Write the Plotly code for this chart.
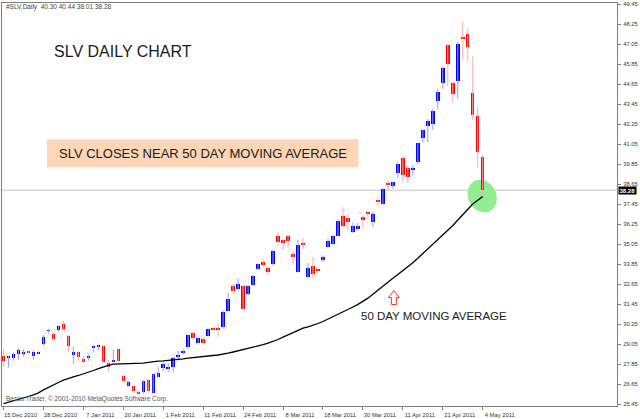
import math
import plotly.graph_objects as go

# ---------------- data ----------------
dates = ["15 Dec 2010", "28 Dec 2010", "7 Jan 2011", "20 Jan 2011", "1 Feb 2011",
         "11 Feb 2011", "24 Feb 2011", "8 Mar 2011", "18 Mar 2011", "30 Mar 2011",
         "11 Apr 2011", "21 Apr 2011", "4 May 2011"]
date_bar_index = [0, 8, 16, 24, 32, 40, 48, 56, 64, 72, 80, 88, 96]

opens = [28.36, 28.25, 28.20, 28.48, 28.45, 28.61, 28.34, 28.48, 29.03, 29.83,
         29.65, 29.87, 30.27, 29.55, 28.42, 28.57, 28.16, 28.25, 28.85, 28.91,
         28.91, 27.90, 27.98, 28.73, 27.16, 26.54, 26.52, 26.15, 26.15, 26.90,
         26.11, 27.10, 27.62, 27.60, 27.66, 28.30, 28.50, 28.89, 29.69, 29.13,
         29.37, 29.53, 29.99, 29.99, 30.05, 31.04, 32.54, 32.33, 32.51, 32.07,
         32.57, 33.53, 34.00, 33.63, 33.83, 35.52, 35.27, 35.52, 34.45, 33.37,
         35.06, 33.07, 33.73, 33.51, 34.07, 34.90, 35.06, 35.56, 36.75, 36.61,
         35.76, 35.96, 36.69, 36.95, 36.39, 37.65, 37.45, 38.69, 38.51, 39.34,
         40.24, 39.64, 39.50, 39.98, 41.39, 42.12, 42.23, 43.66, 44.72, 47.00,
         44.72, 44.81, 47.50, 47.66, 44.12, 42.72, 40.30]
highs = [28.73, 28.35, 28.54, 28.83, 28.73, 28.68, 28.65, 28.60, 29.59, 29.97,
         29.75, 30.18, 30.45, 29.59, 28.89, 28.63, 28.30, 28.45, 28.97, 29.01,
         28.95, 28.10, 28.69, 28.78, 27.21, 26.85, 26.58, 26.27, 26.87, 26.94,
         27.30, 27.70, 27.94, 27.90, 28.30, 28.63, 28.73, 29.65, 29.77, 29.49,
         29.45, 29.99, 30.09, 30.29, 31.04, 32.12, 32.67, 32.97, 32.57, 32.60,
         33.17, 33.87, 34.17, 33.73, 34.70, 35.76, 35.36, 35.60, 34.66, 35.32,
         35.40, 33.91, 34.27, 33.67, 34.37, 35.36, 35.60, 36.51, 37.25, 36.85,
         36.32, 36.32, 36.79, 37.03, 36.99, 37.75, 38.39, 38.84, 38.78, 39.94,
         40.34, 39.74, 39.78, 41.13, 41.93, 42.56, 43.16, 44.36, 45.71, 47.06,
         44.81, 47.20, 48.39, 48.00, 46.31, 43.28, 40.44]
lows = [27.70, 27.64, 28.04, 28.10, 28.30, 28.45, 28.10, 28.42, 28.95, 29.69,
        29.29, 29.79, 29.89, 28.60, 27.86, 28.04, 27.90, 28.04, 28.56, 28.66,
        27.96, 27.36, 27.96, 27.98, 26.78, 26.46, 26.18, 25.95, 26.07, 26.15,
        26.07, 27.06, 27.40, 27.36, 27.34, 28.06, 28.42, 28.85, 29.35, 29.09,
        29.09, 29.49, 29.85, 29.49, 29.97, 30.98, 32.12, 32.27, 31.12, 31.95,
        32.51, 33.47, 33.67, 33.17, 33.77, 34.96, 34.70, 34.80, 33.77, 33.33,
        34.76, 33.01, 32.97, 33.33, 33.97, 34.84, 35.02, 35.52, 35.96, 35.92,
        35.72, 35.92, 36.00, 36.55, 36.06, 37.35, 37.41, 38.24, 38.35, 39.04,
        38.78, 38.74, 39.14, 39.84, 41.13, 41.17, 41.89, 43.16, 44.36, 44.55,
        43.56, 43.76, 46.15, 46.00, 42.48, 39.58, 38.01]
closes = [28.04, 28.30, 28.45, 28.67, 28.60, 28.51, 28.56, 28.54, 29.49, 29.89,
          29.35, 30.11, 29.93, 28.93, 28.56, 28.30, 28.00, 28.31, 28.89, 28.95,
          28.00, 27.70, 28.02, 28.04, 26.85, 26.76, 26.24, 26.06, 26.81, 26.21,
          27.26, 27.34, 27.84, 27.64, 28.24, 28.36, 28.66, 29.58, 29.43, 29.41,
          29.13, 29.93, 29.93, 29.89, 30.98, 31.78, 32.22, 32.67, 31.18, 32.51,
          33.11, 33.83, 33.77, 33.37, 34.66, 35.20, 35.16, 35.26, 34.30, 35.00,
          35.00, 33.61, 33.27, 33.45, 34.27, 35.24, 35.52, 36.45, 36.12, 36.36,
          36.16, 36.16, 36.51, 36.89, 36.85, 37.59, 38.35, 38.60, 38.75, 39.84,
          39.20, 39.08, 39.58, 41.09, 41.87, 42.46, 43.06, 44.16, 45.61, 45.85,
          44.08, 47.04, 47.34, 46.90, 42.82, 40.57, 38.28]
ma50 = [25.47, 25.55, 25.63, 25.72, 25.81, 25.90, 26.00, 26.12, 26.30, 26.46,
        26.60, 26.74, 26.88, 27.00, 27.08, 27.16, 27.25, 27.35, 27.46, 27.57,
        27.68, 27.77, 27.84, 27.85, 27.85, 27.85, 27.85, 27.86, 27.90, 27.95,
        28.00, 28.02, 28.04, 28.06, 28.09, 28.12, 28.16, 28.20, 28.24, 28.27,
        28.30, 28.33, 28.36, 28.39, 28.43, 28.50, 28.57, 28.64, 28.70, 28.76,
        28.83, 28.92, 29.01, 29.10, 29.19, 29.32, 29.46, 29.60, 29.75, 29.90,
        30.00, 30.08, 30.17, 30.28, 30.40, 30.54, 30.68, 30.82, 30.97, 31.12,
        31.27, 31.43, 31.60, 31.80, 32.03, 32.28, 32.53, 32.77, 33.00, 33.22,
        33.45, 33.68, 33.93, 34.20, 34.47, 34.75, 35.03, 35.30, 35.58, 35.87,
        36.16, 36.48, 36.84, 37.18, 37.45, 37.68, 37.90]
price_ticks = [25.45 + 1.2 * k for k in range(21)]

# ---------------- styling / layout helpers ----------------
W, H = 640, 419
ML, MR, MT, MB = 1, 23, 3, 11
PW, PH = W - ML - MR, H - MT - MB


def px2paper(px, py):
    return (px - ML) / PW, (H - MB - py) / PH


FONT = "Liberation Sans, Arial, sans-serif"
UP, DN = "#0000ff", "#ff0000"
UP_WICK, DN_WICK = "#9c9cff", "#ffaaaa"

n = len(opens)
idx = list(range(n))
up = [closes[i] >= opens[i] for i in idx]

fig = go.Figure()

# wicks
for is_up, col in ((True, UP_WICK), (False, DN_WICK)):
    xs, ys = [], []
    for i in idx:
        if up[i] == is_up:
            xs += [i, i, None]
            ys += [lows[i], highs[i], None]
    fig.add_trace(go.Scatter(x=xs, y=ys, mode="lines", line=dict(color=col, width=1),
                             hoverinfo="skip", showlegend=False))

# bodies
for is_up, col in ((True, UP), (False, DN)):
    sel = [i for i in idx if up[i] == is_up]
    fig.add_trace(go.Bar(
        x=sel,
        base=[min(opens[i], closes[i]) for i in sel],
        y=[max(abs(closes[i] - opens[i]), 0.06) for i in sel],
        width=0.7, marker=dict(color=col, line=dict(width=0)),
        showlegend=False, hoverinfo="skip"))

# moving average
fig.add_trace(go.Scatter(x=idx, y=ma50, mode="lines",
                         line=dict(color="black", width=1.3), showlegend=False,
                         hoverinfo="skip"))

shapes = []
annotations = []

# current price line
shapes.append(dict(type="line", xref="paper", yref="y", x0=0, x1=1,
                   y0=closes[-1], y1=closes[-1], line=dict(color="#c4c4c4", width=1),
                   layer="below"))

# green ellipse
cx, cy, a, b, th = 482, 197, 17, 14, math.radians(64)
pts = []
for k in range(49):
    t = 2 * math.pi * k / 48
    ex = cx + a * math.cos(th) * math.cos(t) - b * math.sin(th) * math.sin(t)
    ey = cy + a * math.sin(th) * math.cos(t) + b * math.cos(th) * math.sin(t)
    pts.append(px2paper(ex, ey))
path = "M " + " L ".join(f"{p[0]:.5f},{p[1]:.5f}" for p in pts) + " Z"
shapes.append(dict(type="path", xref="paper", yref="paper", path=path,
                   fillcolor="#90ee90", line=dict(width=0), layer="below"))

# peach box
bx0, by0 = px2paper(46, 168)
bx1, by1 = px2paper(358, 140)
shapes.append(dict(type="rect", xref="paper", yref="paper", x0=bx0, y0=by0, x1=bx1, y1=by1,
                   fillcolor="#fcd6b6", line=dict(width=0), layer="above"))

# hollow red arrow
arrow_px = [(393.5, 292), (399, 299), (396, 299), (396, 306), (391, 306), (391, 299), (388, 299)]
apts = [px2paper(x, y) for x, y in arrow_px]
apath = "M " + " L ".join(f"{p[0]:.5f},{p[1]:.5f}" for p in apts) + " Z"
shapes.append(dict(type="path", xref="paper", yref="paper", path=apath,
                   fillcolor="white", line=dict(color="#ff3030", width=1)))


def add_text(text, px, py, size, xanchor="center", color="#1a1a1a"):
    x, y = px2paper(px, py)
    annotations.append(dict(text=text, x=x, y=y, xref="paper", yref="paper",
                            xanchor=xanchor, yanchor="middle", showarrow=False,
                            font=dict(family=FONT, size=size, color=color)))


add_text(f"#SLV,Daily  {opens[-1]:.2f} {highs[-1]:.2f} {lows[-1]:.2f} {closes[-1]:.2f}",
         3, 7, 6.5, xanchor="left", color="#444")
add_text("SLV DAILY CHART", 122, 52, 16)
add_text("SLV CLOSES NEAR 50 DAY MOVING AVERAGE", 202, 154, 13)
add_text("50 DAY MOVING AVERAGE", 434, 318, 11.5)
add_text("Besco Trader, © 2001-2010 MetaQuotes Software Corp.", 3, 401, 6.5,
         xanchor="left", color="#555")

# current price tag on the axis
annotations.append(dict(text=f"<b>{closes[-1]:.2f}</b>", x=1.0015, y=closes[-1],
                        xref="paper", yref="y", xanchor="left", yanchor="middle",
                        showarrow=False, bgcolor="black", borderpad=0.5,
                        font=dict(family=FONT, size=6, color="white")))

fig.update_layout(
    width=W, height=H,
    margin=dict(l=ML, r=MR, t=MT, b=MB, pad=0),
    paper_bgcolor="white", plot_bgcolor="white",
    barmode="overlay", bargap=0,
    shapes=shapes, annotations=annotations,
    showlegend=False,
    xaxis=dict(range=[-0.3, 122.9], tickmode="array", tickvals=date_bar_index,
               ticktext=dates, ticks="outside", ticklen=3, tickcolor="#808080",
               showgrid=False, zeroline=False, showline=True, linecolor="#808080",
               linewidth=1, mirror=True, ticklabelshift=17, ticklabelstandoff=0,
               tickfont=dict(family=FONT, size=5.8, color="#333"),
               rangeslider=dict(visible=False), fixedrange=True),
    yaxis=dict(range=[25.33, 49.51], side="right", tickmode="array",
               tickvals=price_ticks, ticktext=[f"{v:.2f}" for v in price_ticks],
               ticks="outside", ticklen=3, tickcolor="#808080",
               showgrid=False, zeroline=False, showline=True, linecolor="#808080",
               linewidth=1, mirror=True, ticklabelstandoff=1,
               tickfont=dict(family=FONT, size=5.8, color="#333"), fixedrange=True),
)

fig.write_html("out.html", config={"displayModeBar": False},
               post_script="document.body.style.margin='0';"
                           "document.body.style.overflow='hidden';")
